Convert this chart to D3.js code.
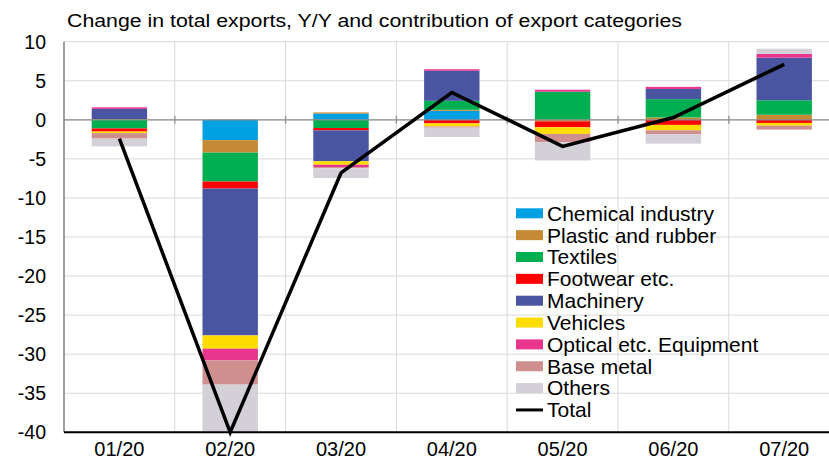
<!DOCTYPE html>
<html>
<head>
<meta charset="utf-8">
<script src="https://cdn.jsdelivr.net/npm/d3@7"></script>
<style>
body { margin: 0; background: #fff; }
svg { display: block; font-family: 'Liberation Sans', Arial, sans-serif; }
</style>
</head>
<body>
<script>
// Export contributions, Y/Y change

var months = ['01/20', '02/20', '03/20', '04/20', '05/20', '06/20', '07/20'];
var seriesNames = ['Chemical industry', 'Plastic and rubber', 'Textiles', 'Footwear etc.', 'Machinery',
	'Vehicles', 'Optical etc. Equipment', 'Base metal', 'Others'];
var seriesColors = ['#00a0e3', '#c58a33', '#00b050', '#ff0000', '#4a55a1', '#ffdc00', '#e8368e', '#d08f8f', '#d4d0d8'];

var chemical  = [0, -2.6, 0.8, 1.15, 0, 0, 0];
var plastic   = [0.1, -1.6, 0.15, 0.13, -0.2, 0.3, 0.65];
var textiles  = [-1.1, -3.7, -1.05, 1.15, 3.6, 2.35, 1.85];
var footwear  = [-0.4, -0.9, -0.3, -0.45, -0.75, -0.65, -0.4];
var machinery = [1.3, -18.8, -3.95, 3.85, 0, 1.3, 5.45];
var vehicles  = [-0.2, -1.7, -0.45, -0.4, -0.85, -0.7, -0.35];
var optical   = [0.2, -1.5, -0.3, 0.2, 0.25, 0.27, 0.5];
var baseMetal = [-0.7, -3.1, -0.15, -0.15, -1.05, -0.5, -0.5];
var others    = [-1.0, -6.5, -1.25, -1.2, -2.35, -1.2, 0.65];
var total     = [-2.4, -40, -6.8, 3.5, -3.4, 0.3, 7.1];

var yTicks = [10, 5, 0, -5, -10, -15, -20, -25, -30, -35, -40];

var w = 829;
var h = 467;
var plotLeft = 64, plotRight = 839.6, plotTop = 41.7, plotBottom = 432.3;

// Build rows for the stack
var allSeries = [chemical, plastic, textiles, footwear, machinery, vehicles, optical, baseMetal, others];
var rows = months.map(function(m, i) {
	var r = { month: m };
	seriesNames.forEach(function(s, j) { r[s] = allSeries[j][i]; });
	return r;
});

var stacked = d3.stack()
	.keys(seriesNames)
	.offset(d3.stackOffsetDiverging)(rows);

var x = d3.scaleBand().domain(months).range([plotLeft, plotRight]).paddingInner(0.5).paddingOuter(0.25);
var xBand = d3.scaleBand().domain(months).range([plotLeft, plotRight]);
var y = d3.scaleLinear().domain([-40, 10]).range([plotBottom, plotTop]);

var svg = d3.select('body')
			.append('svg')
			.attr('width', w)
			.attr('height', h);

svg.append('defs').append('clipPath')
	.attr('id', 'plot')
	.append('rect')
	.attr('x', plotLeft).attr('y', plotTop)
	.attr('width', plotRight - plotLeft).attr('height', plotBottom - plotTop);

// Gridlines
svg.append('g')
	.selectAll('line')
	.data(yTicks)
	.enter()
	.append('line')
	.attr('x1', plotLeft).attr('x2', plotRight)
	.attr('y1', function(d) { return y(d); })
	.attr('y2', function(d) { return y(d); })
	.attr('stroke', '#d9d9d9')
	.attr('stroke-width', 1);

svg.append('g')
	.selectAll('line')
	.data(months)
	.enter()
	.append('line')
	.attr('x1', function(d) { return xBand(d) + xBand.bandwidth(); })
	.attr('x2', function(d) { return xBand(d) + xBand.bandwidth(); })
	.attr('y1', plotTop).attr('y2', plotBottom)
	.attr('stroke', '#d9d9d9')
	.attr('stroke-width', 1);

// Stacked bars
svg.append('g')
	.attr('clip-path', 'url(#plot)')
	.selectAll('g')
	.data(stacked)
	.enter()
	.append('g')
	.attr('fill', function(d, i) { return seriesColors[i]; })
	.selectAll('rect')
	.data(function(d) { return d; })
	.enter()
	.append('rect')
	.attr('x', function(d) { return x(d.data.month); })
	.attr('width', x.bandwidth())
	.attr('y', function(d) { return y(d[1]); })
	.attr('height', function(d) { return y(d[0]) - y(d[1]); });

// Zero line with ticks
svg.append('line')
	.attr('x1', plotLeft).attr('x2', plotRight)
	.attr('y1', y(0)).attr('y2', y(0))
	.attr('stroke', '#8c8c8c')
	.attr('stroke-width', 1.2);

svg.append('g')
	.selectAll('line')
	.data(months)
	.enter()
	.append('line')
	.attr('x1', function(d) { return xBand(d) + xBand.bandwidth(); })
	.attr('x2', function(d) { return xBand(d) + xBand.bandwidth(); })
	.attr('y1', y(0) - 4).attr('y2', y(0) + 4)
	.attr('stroke', '#8c8c8c')
	.attr('stroke-width', 1.2);

// Axes lines
svg.append('line')
	.attr('x1', plotLeft).attr('x2', plotLeft)
	.attr('y1', plotTop).attr('y2', plotBottom)
	.attr('stroke', '#7f7f7f')
	.attr('stroke-width', 1.5);

svg.append('line')
	.attr('x1', plotLeft).attr('x2', plotRight)
	.attr('y1', plotBottom).attr('y2', plotBottom)
	.attr('stroke', '#000')
	.attr('stroke-width', 2);

// Total line
var line = d3.line()
	.x(function(d, i) { return x(months[i]) + x.bandwidth() / 2; })
	.y(function(d) { return y(d); });

svg.append('path')
	.datum(total)
	.attr('d', line)
	.attr('fill', 'none')
	.attr('stroke', '#000')
	.attr('stroke-width', 3.5)
	.attr('stroke-linejoin', 'miter');

// Tick labels
svg.append('g')
	.selectAll('text')
	.data(yTicks)
	.enter()
	.append('text')
	.text(function(d) { return d; })
	.attr('x', 46)
	.attr('y', function(d) { return y(d); })
	.attr('dy', '0.35em')
	.attr('text-anchor', 'end')
	.attr('font-size', '19.5px')
	.attr('fill', '#000');

svg.append('g')
	.selectAll('text')
	.data(months)
	.enter()
	.append('text')
	.text(function(d) { return d; })
	.attr('x', function(d) { return x(d) + x.bandwidth() / 2; })
	.attr('y', 449)
	.attr('dy', '0.35em')
	.attr('text-anchor', 'middle')
	.attr('font-size', '20px')
	.attr('fill', '#000');

// Title
svg.append('text')
	.text('Change in total exports, Y/Y and contribution of export categories')
	.attr('x', 67)
	.attr('y', 27)
	.attr('font-size', '17.5px')
	.attr('textLength', 615)
	.attr('lengthAdjust', 'spacingAndGlyphs')
	.attr('fill', '#000');

// Legend
var legendNames = seriesNames.concat(['Total']);
var legend = svg.append('g')
	.selectAll('g')
	.data(legendNames)
	.enter()
	.append('g')
	.attr('transform', function(d, i) { return 'translate(516,' + (213.3 + i * 21.85) + ')'; });

legend.filter(function(d, i) { return i < seriesNames.length; })
	.append('rect')
	.attr('x', 0).attr('y', -5)
	.attr('width', 27).attr('height', 10)
	.attr('fill', function(d, i) { return seriesColors[i]; });

legend.filter(function(d) { return d === 'Total'; })
	.append('line')
	.attr('x1', 0).attr('x2', 27)
	.attr('stroke', '#000')
	.attr('stroke-width', 3);

legend.append('text')
	.text(function(d) { return d; })
	.attr('x', 31)
	.attr('dy', '0.35em')
	.attr('font-size', '21px')
	.attr('fill', '#000');
</script>
</body>
</html>
